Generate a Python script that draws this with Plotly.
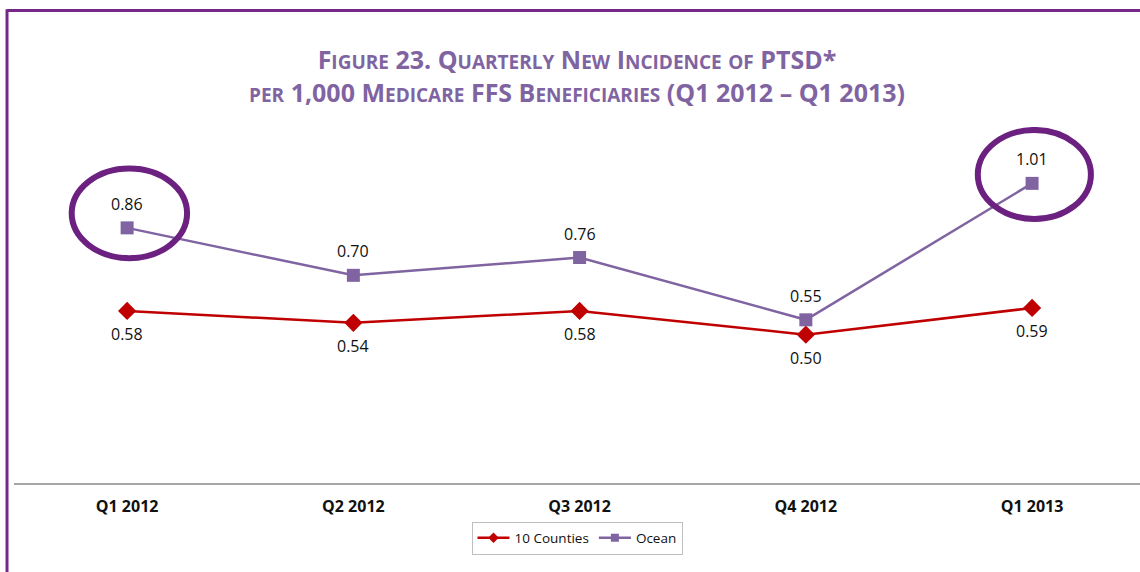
import plotly.graph_objects as go

quarters = ["Q1 2012", "Q2 2012", "Q3 2012", "Q4 2012", "Q1 2013"]
counties = [0.58, 0.54, 0.58, 0.50, 0.59]
ocean = [0.86, 0.70, 0.76, 0.55, 1.01]

RED = "#c00000"
PURPLE = "#8064a2"
DARK_PURPLE = "#6c2180"
FONT = "Open Sans"


def small_caps(text, small=19):
    # fake small caps: capital initials stay big, lower-case letters become smaller capitals
    out = []
    for word in text.split(" "):
        letters = "".join(c for c in word if c.isalpha())
        if not letters or letters.isupper():
            out.append(word)
        elif word[0].isupper():
            out.append(word[0] + f"<span style='font-size:{small}px'>{word[1:].upper()}</span>")
        else:
            out.append(f"<span style='font-size:{small}px'>{word.upper()}</span>")
    return " ".join(out)


line1 = small_caps("Figure 23. Quarterly New Incidence of PTSD*")
line2 = small_caps("per 1,000 Medicare FFS Beneficiaries (Q1 2012 – Q1 2013)")

fig = go.Figure()

fig.add_trace(go.Scatter(
    x=quarters, y=counties, mode="lines+markers", showlegend=False,
    line=dict(color=RED, width=2.5),
    marker=dict(symbol="diamond", size=14, color=RED),
))
fig.add_trace(go.Scatter(
    x=quarters, y=ocean, mode="lines+markers", showlegend=False,
    line=dict(color=PURPLE, width=2.5),
    marker=dict(symbol="square", size=13, color=PURPLE),
))

# legend-only entries with smaller markers, like the original legend
fig.add_trace(go.Scatter(
    x=[None], y=[None], name="10 Counties", mode="lines+markers",
    line=dict(color=RED, width=2.5), marker=dict(symbol="diamond", size=8, color=RED),
))
fig.add_trace(go.Scatter(
    x=[None], y=[None], name="Ocean", mode="lines+markers",
    line=dict(color=PURPLE, width=2.5), marker=dict(symbol="square", size=8, color=PURPLE),
))

annotations = []
for q, v in zip(quarters, counties):
    annotations.append(dict(x=q, y=v, text=f"{v:.2f}", showarrow=False, yshift=-23,
                            font=dict(family=FONT, size=16, color="#111111")))
for q, v in zip(quarters, ocean):
    annotations.append(dict(x=q, y=v, text=f"{v:.2f}", showarrow=False, yshift=24,
                            font=dict(family=FONT, size=16, color="#111111")))

shapes = [
    # highlight ellipses around first and last Ocean values
    dict(type="circle", xref="x", yref="y", x0=-0.245, x1=0.265, y0=0.758, y1=1.06,
         line=dict(color=DARK_PURPLE, width=6)),
    dict(type="circle", xref="x", yref="y", x0=3.76, x1=4.26, y0=0.89, y1=1.19,
         line=dict(color=DARK_PURPLE, width=6)),
    # page frame
    dict(type="line", xref="paper", yref="paper", x0=-0.0062, x1=1.0, y0=1.3272, y1=1.3272,
         line=dict(color="#76288a", width=3)),
    dict(type="line", xref="paper", yref="paper", x0=-0.0062, x1=-0.0062, y0=-0.26, y1=1.331,
         line=dict(color="#76288a", width=3)),
]

fig.update_layout(
    width=1140, height=572,
    margin=dict(l=14, r=0, t=127, b=89),
    paper_bgcolor="white", plot_bgcolor="white",
    title=dict(
        text=line1 + "<br>" + line2,
        x=0.5, xanchor="center", xref="paper",
        y=1 - 69 / 572, yanchor="middle",
        font=dict(family=FONT, size=25, color=PURPLE, weight="bold"),
    ),
    xaxis=dict(
        type="category", range=[-0.5, 4.477],
        showgrid=False, zeroline=False,
        showline=True, linecolor="#a6a6a6", linewidth=1.5,
        ticks="", tickfont=dict(family=FONT, size=16, color="#111111", weight="bold"),
        ticklabelstandoff=8,
    ),
    yaxis=dict(range=[0, 1.2], visible=False),
    legend=dict(
        orientation="h", x=0.5, xanchor="center", xref="paper",
        y=-0.1545, yanchor="middle",
        bordercolor="#bfbfbf", borderwidth=1, bgcolor="white",
        font=dict(family=FONT, size=13.5, color="#111111"),
        itemwidth=32,
    ),
    annotations=annotations,
    shapes=shapes,
)

fig.write_html("out.html", config={"displayModeBar": False},
               post_script="document.body.style.margin='0';")
